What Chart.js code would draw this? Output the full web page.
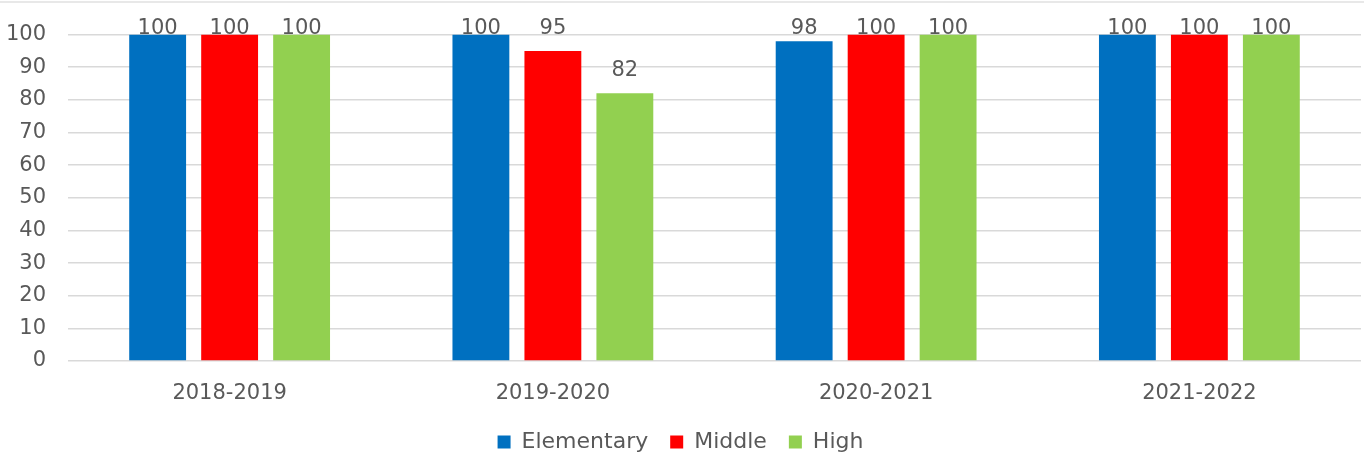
<!DOCTYPE html>
<html>
<head>
<meta charset="utf-8">
<script src="https://cdn.jsdelivr.net/npm/chart.js@4/dist/chart.umd.min.js"></script>
<style>
  html, body { margin: 0; padding: 0; background: #fff; }
  #wrap { width: 1364px; height: 458px; }
</style>
</head>
<body>
<div id="wrap"><canvas id="c" width="1364" height="458"></canvas></div>
<script>
const years = ['2018-2019', '2019-2020', '2020-2021', '2021-2022'];
const elementary = [100, 100, 98, 100];
const middle = [100, 95, 100, 100];
const high = [100, 82, 100, 100];
const yTicks = [0, 10, 20, 30, 40, 50, 60, 70, 80, 90, 100];

const FONT = '"DejaVu Sans", sans-serif';
const TEXT = '#595959';

// Value labels above each bar, kept inside the plot area at the top
const valueLabels = {
  id: 'valueLabels',
  afterDatasetsDraw(chart) {
    const ctx = chart.ctx;
    ctx.save();
    ctx.font = '21px ' + FONT;
    ctx.fillStyle = TEXT;
    ctx.textAlign = 'center';
    ctx.textBaseline = 'alphabetic';
    chart.data.datasets.forEach((ds, i) => {
      chart.getDatasetMeta(i).data.forEach((bar, j) => {
        const y = Math.max(bar.y - 17, chart.chartArea.top - 1);
        ctx.fillText(String(ds.data[j]), bar.x, y);
      });
    });
    ctx.restore();
  }
};

// Thin frame line along the top edge
const topRule = {
  id: 'topRule',
  beforeDraw(chart) {
    const ctx = chart.ctx;
    ctx.save();
    ctx.strokeStyle = '#E0E0E0';
    ctx.lineWidth = 1.5;
    ctx.beginPath();
    ctx.moveTo(0, 2);
    ctx.lineTo(chart.width, 2);
    ctx.stroke();
    ctx.restore();
  }
};

new Chart(document.getElementById('c'), {
  type: 'bar',
  data: {
    labels: years,
    datasets: [
      { label: 'Elementary', data: elementary, backgroundColor: '#0070C0' },
      { label: 'Middle', data: middle, backgroundColor: '#FF0000' },
      { label: 'High', data: high, backgroundColor: '#92D050' }
    ]
  },
  options: {
    responsive: false,
    animation: false,
    devicePixelRatio: 1,
    layout: { padding: { top: 32, right: 3, left: 0, bottom: -5 } },
    datasets: { bar: { categoryPercentage: 0.668, barPercentage: 0.79 } },
    plugins: {
      tooltip: { enabled: false },
      legend: {
        position: 'bottom',
        labels: {
          font: { family: FONT, size: 22 },
          color: TEXT,
          boxWidth: 13,
          boxHeight: 13,
          padding: 22
        }
      }
    },
    scales: {
      x: {
        grid: { display: false },
        border: { display: false },
        ticks: { font: { family: FONT, size: 21 }, color: TEXT, padding: 12 },
        afterFit(scale) { scale.height = 48; }
      },
      y: {
        min: 0,
        max: 100,
        afterBuildTicks(scale) { scale.ticks = yTicks.map(v => ({ value: v })); },
        grid: { color: '#D9D9D9', lineWidth: 1.5, drawTicks: false },
        border: { display: false },
        ticks: { font: { family: FONT, size: 21 }, color: TEXT, padding: 22 },
        afterFit(scale) { scale.width = 68; }
      }
    }
  },
  plugins: [valueLabels, topRule]
});
</script>
</body>
</html>
